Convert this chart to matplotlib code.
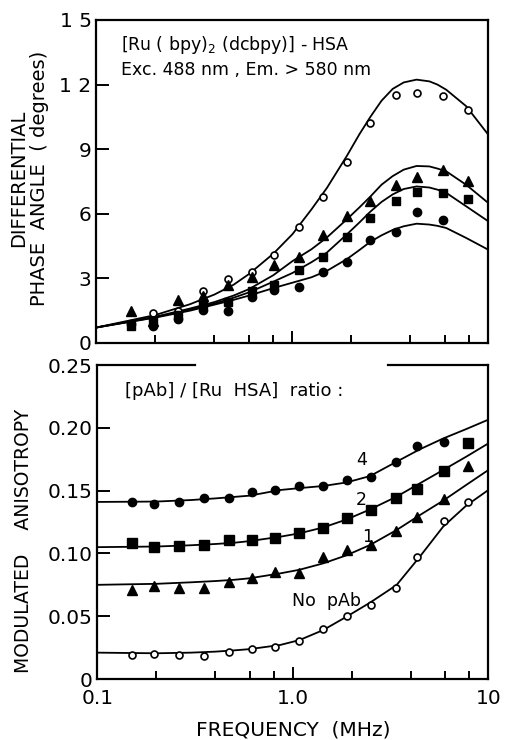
import matplotlib
matplotlib.use("Agg")
import matplotlib.pyplot as plt
from matplotlib.ticker import FixedLocator, FixedFormatter, NullFormatter

# measured modulation frequencies (MHz)
freq = [0.15, 0.195, 0.26, 0.35, 0.47, 0.62, 0.81, 1.08, 1.43, 1.9, 2.5, 3.37, 4.34, 5.9, 7.9]

# --- differential phase angle (degrees) ---
phase_open = [None, 1.4, 1.5, 2.4, 2.95, 3.3, 4.1, 5.4, 6.8, 8.4, 10.2, 11.5, 11.6, 11.45, 10.8]
phase_tri = [1.5, 1.0, 2.0, 2.2, 2.7, 3.05, 3.6, 4.0, 5.0, 5.9, 6.6, 7.35, 7.7, 8.05, 7.5]
phase_sq = [0.8, 1.0, 1.3, 1.8, 1.9, 2.4, 2.7, 3.4, 4.0, 4.9, 5.8, 6.6, 7.0, 6.95, 6.7]
phase_fill = [0.9, 0.8, 1.1, 1.55, 1.5, 2.15, 2.45, 2.6, 3.3, 3.75, 4.8, 5.15, 6.1, 5.7, None]

# fitted curves
fit_f = [0.1, 0.2, 0.3, 0.4, 0.5, 0.6, 0.8, 1.0, 1.25, 1.5, 1.9, 2.2, 2.5, 2.85, 3.25, 3.7, 4.3, 5.0, 5.5, 6.1, 7.7, 10.0]
phase_fit_open = [0.72, 1.3, 1.8, 2.25, 2.7, 3.2, 4.15, 5.05, 6.2, 7.2, 8.7, 9.7, 10.5, 11.25, 11.8, 12.1, 12.23, 12.15, 12.0, 11.76, 11.0, 9.67]
phase_fit_tri = [0.72, 1.22, 1.6, 1.9, 2.2, 2.5, 3.15, 3.8, 4.35, 4.9, 5.75, 6.3, 6.8, 7.35, 7.75, 8.05, 8.22, 8.2, 8.1, 7.97, 7.35, 6.5]
phase_fit_sq = [0.72, 1.2, 1.55, 1.83, 2.1, 2.35, 2.85, 3.25, 3.75, 4.2, 5.05, 5.6, 6.1, 6.55, 6.9, 7.15, 7.27, 7.22, 7.12, 6.97, 6.35, 5.65]
phase_fit_fill = [0.72, 1.18, 1.5, 1.78, 2.0, 2.2, 2.55, 2.8, 3.05, 3.35, 3.9, 4.32, 4.7, 5.0, 5.25, 5.42, 5.54, 5.5, 5.44, 5.34, 4.88, 4.33]

# --- modulated anisotropy ---
r_4 = [0.1407, 0.139, 0.141, 0.1444, 0.1444, 0.1486, 0.1505, 0.1539, 0.1539, 0.1584, 0.161, 0.173, 0.1855, 0.189, None]
r_2 = [0.108, 0.1054, 0.106, 0.107, 0.1107, 0.1107, 0.112, 0.116, 0.12, 0.128, 0.1346, 0.1444, 0.151, 0.166, 0.1876]
r_1 = [0.0709, 0.0743, 0.0727, 0.0722, 0.0775, 0.0807, 0.0855, 0.0847, 0.0974, 0.1027, 0.107, 0.118, 0.1287, 0.1433, 0.1696]
r_0 = [0.0191, 0.0199, 0.0191, 0.0186, 0.0218, 0.0239, 0.0257, 0.0303, 0.0395, 0.0502, 0.0589, 0.0727, 0.0969, 0.1258, 0.1407]

fit_f2 = [0.1, 0.2, 0.3, 0.4, 0.5, 0.6, 0.86, 1.08, 1.43, 1.88, 2.48, 3.39, 4.46, 5.87, 7.7, 10.0]
r_fit_4 = [0.141, 0.1413, 0.1425, 0.1438, 0.145, 0.146, 0.1505, 0.152, 0.1537, 0.1565, 0.1616, 0.173, 0.1829, 0.1915, 0.199, 0.2065]
r_fit_2 = [0.105, 0.1055, 0.1065, 0.1075, 0.1085, 0.1098, 0.1133, 0.116, 0.1207, 0.127, 0.135, 0.1452, 0.1558, 0.1664, 0.177, 0.1876]
r_fit_1 = [0.075, 0.0758, 0.077, 0.078, 0.079, 0.0802, 0.0841, 0.087, 0.0921, 0.0985, 0.1067, 0.1186, 0.1305, 0.142, 0.1545, 0.1664]
r_fit_0 = [0.021, 0.0205, 0.021, 0.0218, 0.0228, 0.0238, 0.0271, 0.031, 0.039, 0.0496, 0.0608, 0.0748, 0.0974, 0.1213, 0.138, 0.1505]


def pts(xs, ys):
    p = [(x, y) for x, y in zip(xs, ys) if y is not None]
    return [a for a, b in p], [b for a, b in p]


def style_axis(ax):
    ax.set_xscale("log")
    ax.set_xlim(0.1, 10)
    ax.xaxis.set_major_locator(FixedLocator([0.1, 1.0, 10]))
    ax.xaxis.set_minor_locator(FixedLocator([0.2, 0.4, 0.6, 0.8, 2, 4, 6, 8]))
    ax.xaxis.set_minor_formatter(NullFormatter())
    ax.tick_params(which="major", direction="in", length=9, width=1.4, labelsize=14.5)
    ax.tick_params(which="minor", direction="in", length=6, width=1.4)
    ax.tick_params(axis="x", top=False)
    ax.tick_params(axis="y", right=False)
    for s in ax.spines.values():
        s.set_linewidth(1.6)


plt.rcParams["font.family"] = ["DejaVu Sans"]
fig = plt.figure(figsize=(5.05, 7.4), dpi=100)

ax1 = fig.add_axes([0.191, 0.5365, 0.776, 0.4365])
ax2 = fig.add_axes([0.193, 0.0824, 0.774, 0.4243])

# top panel
style_axis(ax1)
for yfit in [phase_fit_open, phase_fit_tri, phase_fit_sq, phase_fit_fill]:
    ax1.plot(fit_f, yfit, color="black", lw=1.3)
x, y = pts(freq, phase_open)
ax1.plot(x, y, "o", ms=5, mfc="white", mec="black", mew=1.2)
x, y = pts(freq, phase_tri)
ax1.plot(x, y, "^", ms=7, color="black")
x, y = pts(freq, phase_sq)
ax1.plot(x, y, "s", ms=6, color="black")
x, y = pts(freq, phase_fill)
ax1.plot(x, y, "o", ms=6, color="black")
ax1.set_ylim(0, 15)
ax1.set_yticks([0, 3, 6, 9, 12, 15])
ax1.set_yticklabels(["0", "3", "6", "9", "1 2", "1 5"])
ax1.xaxis.set_major_formatter(NullFormatter())
ax1.set_ylabel("DIFFERENTIAL\nPHASE  ANGLE  ( degrees)", fontsize=14, linespacing=1.15)
ax1.yaxis.set_label_coords(-0.12, 0.51)
ax1.text(0.133, 13.85, r"[Ru ( bpy)$_2$ (dcbpy)] - HSA", fontsize=12.5, va="center")
ax1.text(0.133, 12.7, "Exc. 488 nm , Em. > 580 nm", fontsize=12.5, va="center")

# bottom panel
style_axis(ax2)
for yfit in [r_fit_4, r_fit_2, r_fit_1, r_fit_0]:
    ax2.plot(fit_f2, yfit, color="black", lw=1.3)
x, y = pts(freq, r_4)
ax2.plot(x, y, "o", ms=6, color="black")
x, y = pts(freq, r_2)
ax2.plot(x, y, "s", ms=6.5, color="black")
x, y = pts(freq, r_1)
ax2.plot(x, y, "^", ms=7, color="black")
x, y = pts(freq, r_0)
ax2.plot(x, y, "o", ms=5, mfc="white", mec="black", mew=1.2)
ax2.set_ylim(0, 0.25)
ax2.set_yticks([0, 0.05, 0.10, 0.15, 0.20, 0.25])
ax2.set_yticklabels(["0", "0.05", "0.10", "0.15", "0.20", "0.25"])
ax2.xaxis.set_major_formatter(FixedFormatter(["0.1", "1.0", "10"]))
ax2.tick_params(axis="x", which="major", pad=7)
ax2.set_ylabel("MODULATED    ANISOTROPY", fontsize=13.5)
ax2.yaxis.set_label_coords(-0.165, 0.44)
ax2.set_xlabel("FREQUENCY  (MHz)", fontsize=14.5, labelpad=9)

# broken top frame of the lower panel
ax2.spines["top"].set_visible(False)
ax2.plot([0, 0.249], [1, 1], transform=ax2.transAxes, color="black", lw=1.6, clip_on=False)
ax2.plot([0.744, 1], [1, 1], transform=ax2.transAxes, color="black", lw=1.6, clip_on=False)

ax2.text(0.138, 0.229, "[pAb] / [Ru  HSA]  ratio :", fontsize=13, va="center")
ax2.text(2.25, 0.174, "4", fontsize=12.5, ha="center", va="center")
ax2.text(2.25, 0.1425, "2", fontsize=12.5, ha="center", va="center")
ax2.text(2.4, 0.113, "1", fontsize=12.5, ha="center", va="center")
ax2.text(1.48, 0.062, "No  pAb", fontsize=12.5, ha="center", va="center")

fig.savefig("out.png", dpi=100)
